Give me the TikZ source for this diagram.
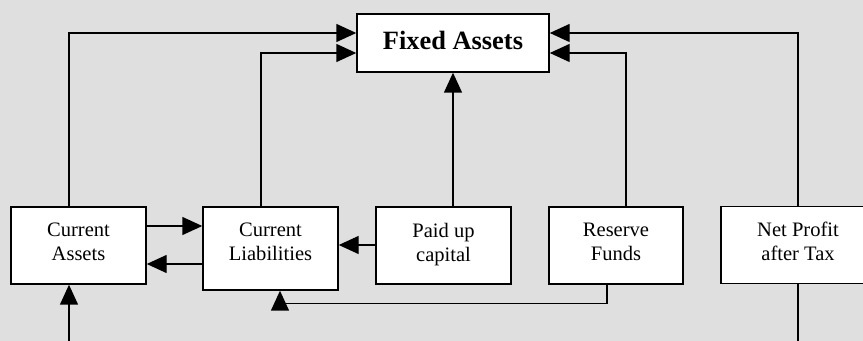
\documentclass[tikz,border=0pt]{standalone}
\usepackage{fontspec}
\setmainfont{Liberation Serif}
\usetikzlibrary{arrows.meta}
\definecolor{bggray}{RGB}{223,223,223}
\tikzset{
  item/.style={draw, line width=1.1pt, fill=white, align=center,
    minimum width=101.25pt, minimum height=57.75pt, inner sep=2pt,
    font=\fontsize{15.4}{18}\selectfont,
    execute at begin node=\strut, execute at end node=\strut},
  arr/.style={line width=1.1pt, -{Triangle[length=15pt,width=13.5pt]}},
  link/.style={line width=1.1pt}
}
\begin{document}
\begin{tikzpicture}[x=0.75pt,y=0.75pt,yscale=-1,xscale=1]
    \useasboundingbox (0,0) rectangle (863,341);
    \clip (0,0) rectangle (863,341);
    \fill[bggray] (0,0) rectangle (863,341);

    % Boxes
    \node[item, minimum width=144pt, minimum height=43.5pt, font=\fontsize{19.8}{24}\selectfont\bfseries] (FA) at (453,43) {Fixed Assets};
    \node[item] (CA) at (78.5,245.5) {Current\\Assets};
    \node[item, minimum height=62.25pt, execute at end node={\rule[-9.9pt]{0pt}{0pt}}] (CL) at (270.5,248.5) {Current\\Liabilities};
    \node[item] (PU) at (443.5,245.5) {Paid up\\capital};
    \node[item, minimum width=100.5pt] (RF) at (616,245.5) {Reserve\\Funds};
    \node[item, minimum width=115.5pt] (NP) at (798,245) {Net Profit\\after Tax};

    % Free ends at the bottom edge
    \coordinate (ca in) at (69,341);
    \coordinate (np out) at (798,341);

    % Into Fixed Assets
    \draw[arr] (CA.north -| 69,0) |- (FA.west |- 0,33);
    \draw[arr] (CL.north -| 261,0) |- (FA.west |- 0,53);
    \draw[arr] (PU.north -| FA.south) -- (FA.south);
    \draw[arr] (RF.north -| 626,0) |- (FA.east |- 0,53);
    \draw[arr] (NP.north) |- (FA.east |- 0,33);

    % Between the lower boxes
    \draw[arr] (CA.east |- 0,226) -- (CL.west |- 0,226);
    \draw[arr] (CL.west |- 0,264) -- (CA.east |- 0,264);
    \draw[arr] (PU.west |- 0,245) -- (CL.east |- 0,245);
    \draw[arr] (RF.south -| 607,0) -- ++(0,19) -| (CL.south -| 280,0);

    % Bottom edge
    \draw[arr] (ca in) -- (CA.south -| ca in);
    \draw[link] (NP.south) -- (np out);

\end{tikzpicture}
\end{document}
